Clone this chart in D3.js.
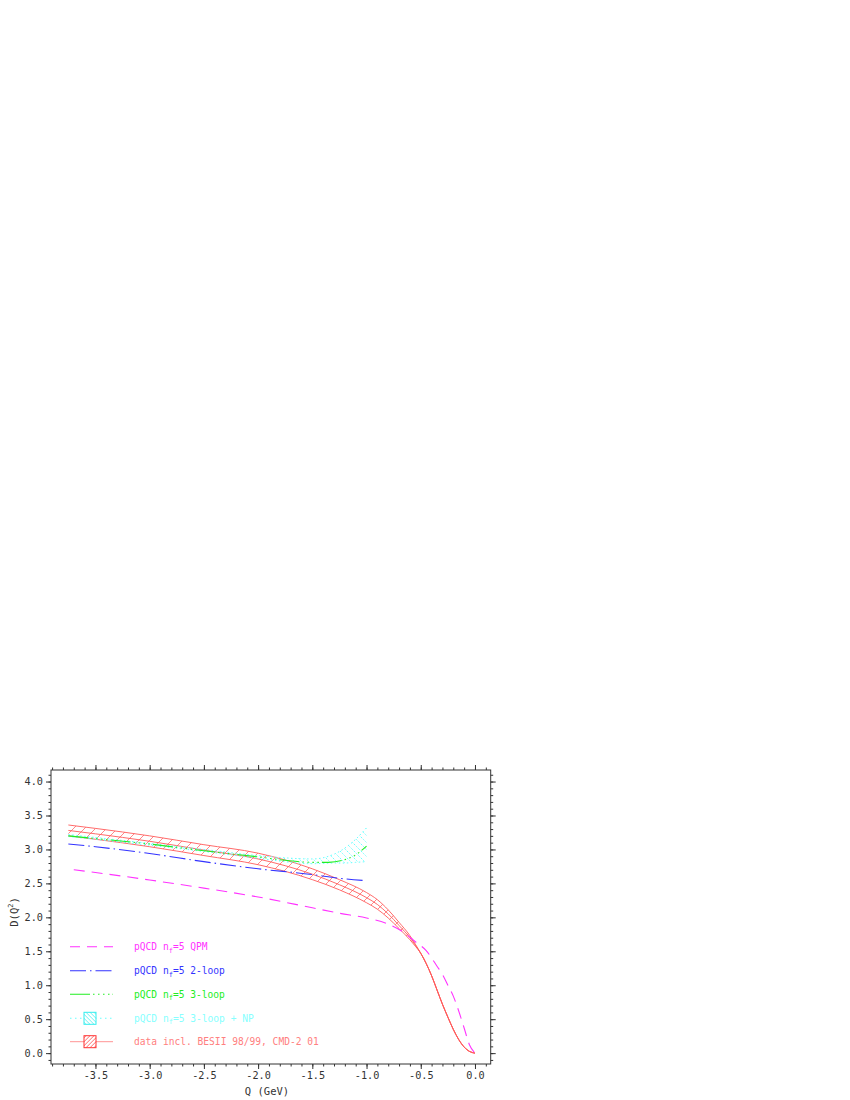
<!DOCTYPE html>
<html>
<head>
<meta charset="utf-8">
<script src="https://cdn.jsdelivr.net/npm/d3@7"></script>
<style>
  body { margin: 0; background: #fff; }
  svg { display: block; }
  text { font-family: "DejaVu Sans Mono", monospace; }
</style>
</head>
<body>
<div id="chart"></div>
<script>
// pQCD QPM (magenta dashed)
const qpmQ = [-3.7, -3.5, -3.0, -2.5, -2.0, -1.5, -1.25, -1.0, -0.8, -0.65, -0.55, -0.45, -0.35, -0.3, -0.25, -0.2, -0.15, -0.1, -0.05, 0];
const qpmD = [2.70, 2.66, 2.55, 2.43, 2.30, 2.14, 2.06, 1.99, 1.90, 1.77, 1.64, 1.51, 1.28, 1.16, 1.00, 0.84, 0.62, 0.37, 0.12, 0];

// pQCD 2-loop (blue dash-dot)
const loop2Q = [-3.75, -3.5, -3.0, -2.5, -2.0, -1.5, -1.25, -1.0];
const loop2D = [3.08, 3.04, 2.94, 2.82, 2.715, 2.63, 2.575, 2.54];

// pQCD 3-loop (green)
const loop3Q = [-3.75, -3.5, -3.0, -2.5, -2.0, -1.75, -1.5, -1.35, -1.2, -1.1, -1.0];
const loop3D = [3.20, 3.16, 3.08, 2.98, 2.89, 2.84, 2.81, 2.81, 2.85, 2.92, 3.05];

// pQCD 3-loop + NP (cyan band)
const npQ = [-3.75, -2.5, -2.0, -1.5, -1.3, -1.2, -1.1, -1.0];
const npLow = [3.19, 2.97, 2.87, 2.79, 2.80, 2.80, 2.81, 2.82];
const npHigh = [3.22, 3.00, 2.91, 2.86, 2.93, 3.02, 3.15, 3.32];

// data incl. BESII 98/99, CMD-2 01 (red band)
const dataQ = [-3.75, -3.5, -3.0, -2.5, -2.0, -1.5, -1.25, -1.0, -0.9, -0.8, -0.7, -0.6, -0.55, -0.5, -0.45, -0.4, -0.35, -0.3, -0.25, -0.2, -0.15, -0.1, -0.05, 0];
const dataLow = [3.20, 3.15, 3.04, 2.91, 2.775, 2.555, 2.405, 2.215, 2.12, 1.99, 1.835, 1.67, 1.575, 1.47, 1.32, 1.14, 0.93, 0.72, 0.53, 0.35, 0.20, 0.09, 0.025, 0];
const dataHigh = [3.36, 3.31, 3.20, 3.07, 2.945, 2.715, 2.555, 2.365, 2.26, 2.11, 1.925, 1.73, 1.605, 1.47, 1.32, 1.14, 0.93, 0.72, 0.53, 0.35, 0.20, 0.09, 0.025, 0];

const xMajor = [-3.5, -3.0, -2.5, -2.0, -1.5, -1.0, -0.5, 0.0];
const yMajor = [0.0, 0.5, 1.0, 1.5, 2.0, 2.5, 3.0, 3.5, 4.0];

const legendItems = [
    { label: "QPM", color: "#ff33ff", text: "#ff33ff", kind: "qpm" },
    { label: "2-loop", color: "#3333ff", text: "#3333ff", kind: "loop2" },
    { label: "3-loop", color: "#22ee22", text: "#22ee22", kind: "loop3" },
    { label: "3-loop + NP", color: "#66ffff", text: "#88ffff", kind: "np" },
    { label: "data incl. BESII 98/99, CMD-2 01", color: "#ff4444", text: "#ff8080", kind: "data" }
];

const width = 850, height = 1100;
const plotL = 51, plotR = 490.7, plotT = 770, plotB = 1064;

const svg = d3.select("#chart").append("svg")
    .attr("width", width)
    .attr("height", height);

const x = d3.scaleLinear().domain([-3.91, 0.145]).range([plotL, plotR]);
const y = d3.scaleLinear().domain([-0.16, 4.17]).range([plotB, plotT]);

// Patterns
const defs = svg.append("defs");
defs.append("clipPath").attr("id", "plotClip")
    .append("rect").attr("x", plotL).attr("y", plotT)
    .attr("width", plotR - plotL).attr("height", plotB - plotT);

defs.append("pattern").attr("id", "redHatch")
    .attr("patternUnits", "userSpaceOnUse")
    .attr("width", 11).attr("height", 11)
    .append("path")
    .attr("d", "M-1,12 L12,-1")
    .attr("stroke", "#ff5555").attr("stroke-width", 0.7);

defs.append("pattern").attr("id", "cyanHatch")
    .attr("patternUnits", "userSpaceOnUse")
    .attr("width", 7).attr("height", 7)
    .append("path")
    .attr("d", "M-1,-1 L8,8")
    .attr("stroke", "#55ffff").attr("stroke-width", 1)
    .attr("stroke-dasharray", "1.2,1.2");

defs.append("pattern").attr("id", "redHatchLeg")
    .attr("patternUnits", "userSpaceOnUse")
    .attr("width", 4).attr("height", 4)
    .append("path")
    .attr("d", "M-1,5 L5,-1")
    .attr("stroke", "#ff4444").attr("stroke-width", 0.8);

defs.append("pattern").attr("id", "cyanHatchLeg")
    .attr("patternUnits", "userSpaceOnUse")
    .attr("width", 4).attr("height", 4)
    .append("path")
    .attr("d", "M-1,-1 L5,5")
    .attr("stroke", "#44eeee").attr("stroke-width", 0.8);

const plot = svg.append("g").attr("clip-path", "url(#plotClip)");

const lineOf = (qs, ds) => d3.line()
    .x((d, i) => x(qs[i]))
    .y(d => y(d))
    .curve(d3.curveMonotoneX)(ds);

const areaOf = (qs, lo, hi) => d3.area()
    .x((d, i) => x(qs[i]))
    .y0((d, i) => y(lo[i]))
    .y1((d, i) => y(hi[i]))
    .curve(d3.curveMonotoneX)(qs);

// Red data band
plot.append("path")
    .attr("d", areaOf(dataQ, dataLow, dataHigh))
    .attr("fill", "url(#redHatch)");
const dataMid = dataLow.map((v, i) => (v + dataHigh[i]) / 2);
[dataLow, dataMid, dataHigh].forEach(arr => {
    plot.append("path")
        .attr("d", lineOf(dataQ, arr))
        .attr("fill", "none")
        .attr("stroke", "#ff5a5a")
        .attr("stroke-width", 0.9);
});

// Cyan NP band
plot.append("path")
    .attr("d", areaOf(npQ, npLow, npHigh))
    .attr("fill", "url(#cyanHatch)");
[npLow, npHigh].forEach(arr => {
    plot.append("path")
        .attr("d", lineOf(npQ, arr))
        .attr("fill", "none")
        .attr("stroke", "#66ffff")
        .attr("stroke-width", 1)
        .attr("stroke-dasharray", "1.5,2.5");
});

// 2-loop
plot.append("path")
    .attr("d", lineOf(loop2Q, loop2D))
    .attr("fill", "none")
    .attr("stroke", "#3333ff")
    .attr("stroke-width", 1.1)
    .attr("stroke-dasharray", "16,4,1.5,4");

// 3-loop
plot.append("path")
    .attr("d", lineOf(loop3Q, loop3D))
    .attr("fill", "none")
    .attr("stroke", "#22ee22")
    .attr("stroke-width", 1.1)
    .attr("stroke-dasharray", "20,3,1.5,3.5,1.5,3.5,1.5,3.5,1.5,3");

// QPM
plot.append("path")
    .attr("d", lineOf(qpmQ, qpmD))
    .attr("fill", "none")
    .attr("stroke", "#ff33ff")
    .attr("stroke-width", 1.1)
    .attr("stroke-dasharray", "11,7");

// Axes
const axisColor = "#333";
const xMinor = d3.range(-39, 2).map(i => i / 10);
const yMinor = d3.range(-1, 42).map(i => i / 10);
const fmt = d => d.toFixed(1);

function styleAxis(g) {
    g.select(".domain").remove();
    g.selectAll("line").attr("stroke", axisColor);
    g.selectAll("text").attr("fill", "#333").attr("font-size", 10.2)
        .attr("font-family", "DejaVu Sans Mono, monospace");
}

svg.append("g").attr("transform", `translate(0,${plotB})`)
    .call(d3.axisBottom(x).tickValues(xMinor).tickSize(2.5).tickFormat(""))
    .call(styleAxis);
svg.append("g").attr("transform", `translate(0,${plotB})`)
    .call(d3.axisBottom(x).tickValues(xMajor).tickSize(5).tickPadding(3).tickFormat(fmt))
    .call(styleAxis);
svg.append("g").attr("transform", `translate(0,${plotT})`)
    .call(d3.axisTop(x).tickValues(xMinor).tickSize(2.5).tickFormat(""))
    .call(styleAxis);
svg.append("g").attr("transform", `translate(0,${plotT})`)
    .call(d3.axisTop(x).tickValues(xMajor).tickSize(5).tickFormat(""))
    .call(styleAxis);

svg.append("g").attr("transform", `translate(${plotL},0)`)
    .call(d3.axisLeft(y).tickValues(yMinor).tickSize(2.5).tickFormat(""))
    .call(styleAxis);
svg.append("g").attr("transform", `translate(${plotL},0)`)
    .call(d3.axisLeft(y).tickValues(yMajor).tickSize(5).tickPadding(3).tickFormat(fmt))
    .call(styleAxis);
svg.append("g").attr("transform", `translate(${plotR},0)`)
    .call(d3.axisRight(y).tickValues(yMinor).tickSize(2.5).tickFormat(""))
    .call(styleAxis);
svg.append("g").attr("transform", `translate(${plotR},0)`)
    .call(d3.axisRight(y).tickValues(yMajor).tickSize(5).tickFormat(""))
    .call(styleAxis);

// Frame
svg.append("rect")
    .attr("x", plotL).attr("y", plotT)
    .attr("width", plotR - plotL).attr("height", plotB - plotT)
    .attr("fill", "none").attr("stroke", axisColor).attr("stroke-width", 1);

// Axis titles
svg.append("text")
    .attr("x", 267).attr("y", 1095)
    .attr("text-anchor", "middle")
    .attr("font-size", 10.5).attr("fill", "#333")
    .text("Q (GeV)");

const yt = svg.append("text")
    .attr("transform", "translate(18,912) rotate(-90)")
    .attr("text-anchor", "middle")
    .attr("font-size", 10.5).attr("fill", "#333");
yt.append("tspan").text("D(Q");
yt.append("tspan").attr("font-size", 7).attr("dy", -5).text("2");
yt.append("tspan").attr("dy", 5).text(")");

// Legend
const legY = [946.7, 970.7, 994.3, 1018.3, 1041.7];
const legend = svg.append("g");
legendItems.forEach((item, i) => {
    const g = legend.append("g").attr("transform", `translate(0,${legY[i]})`);
    const ln = g.append("line")
        .attr("x1", 70).attr("x2", 113)
        .attr("stroke", item.color).attr("stroke-width", 1.1);
    if (item.kind === "qpm") ln.attr("stroke-dasharray", "10,7");
    if (item.kind === "loop2") ln.attr("stroke-dasharray", "16,4,1.5,4");
    if (item.kind === "loop3") ln.attr("stroke-dasharray", "20,3,1.5,3.5,1.5,3.5,1.5,3.5,1.5,3");
    if (item.kind === "np") ln.attr("stroke-dasharray", "1.5,3.5").attr("stroke", "#66ffff");
    if (item.kind === "data") ln.attr("stroke", "#ff8888").attr("stroke-width", 0.9);
    if (item.kind === "np" || item.kind === "data") {
        g.append("rect")
            .attr("x", 84).attr("y", -6).attr("width", 12).attr("height", 12)
            .attr("fill", "#fff");
        g.append("rect")
            .attr("x", 84).attr("y", -6).attr("width", 12).attr("height", 12)
            .attr("fill", item.kind === "np" ? "url(#cyanHatchLeg)" : "url(#redHatchLeg)")
            .attr("stroke", item.kind === "np" ? "#33eeee" : "#ff3333")
            .attr("stroke-width", 1);
    }
    const t = g.append("text")
        .attr("x", 134).attr("y", 3.5)
        .attr("font-size", 9.6).attr("fill", item.text);
    if (item.kind === "data") {
        t.text(item.label);
    } else {
        t.append("tspan").text("pQCD n");
        t.append("tspan").attr("font-size", 7).attr("dy", 2.5).text("f");
        t.append("tspan").attr("dy", -2.5).text("=5 " + item.label);
    }
});
</script>
</body>
</html>
